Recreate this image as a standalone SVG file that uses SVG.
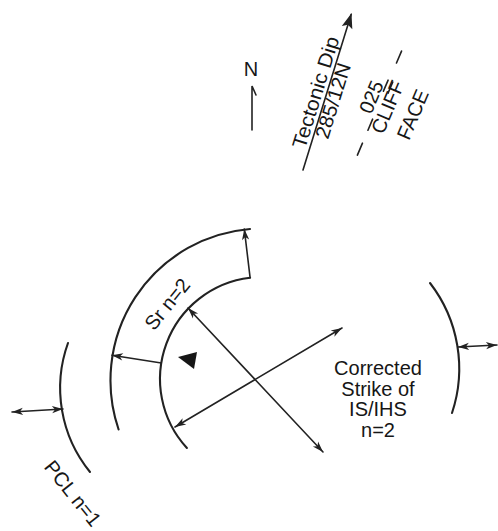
<svg xmlns="http://www.w3.org/2000/svg" width="498" height="531" viewBox="0 0 498 531">
<style>
  .ln{fill:none;stroke:#222;stroke-width:1.6;stroke-linecap:round}
  .arc{fill:none;stroke:#222;stroke-width:2.1;stroke-linecap:round}
  .t{font-family:"Liberation Sans",Arial,sans-serif;font-size:20px;fill:#161616}
</style>
<defs>
  <marker id="ah" viewBox="-12 -5 13 10" markerWidth="13" markerHeight="10" refX="0" refY="0" orient="auto-start-reverse" markerUnits="userSpaceOnUse">
    <path d="M0,0 L-11,-3.6 L-8,0 L-11,3.6 Z" fill="#222"/>
  </marker>
  <marker id="big" viewBox="-16 -7 17 14" markerWidth="17" markerHeight="14" refX="0" refY="0" orient="auto" markerUnits="userSpaceOnUse">
    <path d="M1,0 L-14,-5.5 L-11,0 L-14,5.5 Z" fill="#222"/>
  </marker>
</defs>
<rect width="498" height="531" fill="#ffffff"/>

<g id="north">
  <text class="t" x="251" y="76" text-anchor="middle" font-size="18">N</text>
  <path class="ln" d="M252,130 L252,86 L256,95" stroke-width="2"/>
</g>

<g id="tectonic-dip" transform="translate(303,170) rotate(-72.8)">
  <line class="ln" x1="0" y1="0" x2="163" y2="0" marker-end="url(#big)"/>
  <text class="t" x="20" y="-4" textLength="116" lengthAdjust="spacingAndGlyphs">Tectonic Dip</text>
  <text class="t" x="36" y="15" textLength="78" lengthAdjust="spacingAndGlyphs">285/12N</text>
</g>

<g id="cliff-face" transform="translate(357,156) rotate(-67)">
  <path class="ln" stroke-width="2" d="M1,0 L14,0 M28,0 L40,0 M70,-1 L82,-1 M70,4 L82,4 M101,0 L114,0"/>
  <text class="t" x="60" y="-3" text-anchor="middle">025</text>
  <text class="t" x="57" y="16" text-anchor="middle">CLIFF</text>
  <text class="t" x="60" y="42" text-anchor="middle">FACE</text>
</g>

<g id="sr-band">
  <path class="arc" d="M250,229 A152,152 0 0 0 118.6,429.5"/>
  <path class="arc" d="M250.1,277.7 A102,102 0 0 0 186.9,448"/>
  <text class="t" text-anchor="middle" transform="translate(172.6,308.5) rotate(-51)">Sr n=2</text>
</g>

<g id="pcl">
  <path class="arc" d="M68,343 A133,133 0 0 0 90,472"/>
  <text class="t" transform="translate(43.2,467.3) rotate(51.3)">PCL n=1</text>
</g>

<g id="right-limit">
  <path class="arc" d="M430,283 A140,140 0 0 1 452,413"/>
</g>

<g id="dip-symbol">
  <polygon points="178,357 197,352 194,369" fill="#161616"/>
</g>

<g id="corrected-strike">
  <text class="t" x="378" y="375" text-anchor="middle">Corrected</text>
  <text class="t" x="378" y="395.5" text-anchor="middle">Strike of</text>
  <text class="t" x="378" y="416" text-anchor="middle">IS/IHS</text>
  <text class="t" x="378" y="436.5" text-anchor="middle">n=2</text>
</g>

<g id="connectors">
  <line class="ln" x1="250.1" y1="277.7" x2="244.3" y2="229" marker-end="url(#ah)"/>
  <line class="ln" x1="161.3" y1="363" x2="111.9" y2="355.2" marker-end="url(#ah)"/>
  <line class="ln" x1="188" y1="308" x2="323" y2="452" marker-start="url(#ah)" marker-end="url(#ah)"/>
  <line class="ln" x1="175" y1="427" x2="342" y2="328" marker-start="url(#ah)" marker-end="url(#ah)"/>
  <line class="ln" x1="12" y1="412" x2="63" y2="409" marker-start="url(#ah)" marker-end="url(#ah)"/>
  <line class="ln" x1="458" y1="347" x2="497" y2="345" marker-start="url(#ah)" marker-end="url(#ah)"/>
</g>
</svg>
